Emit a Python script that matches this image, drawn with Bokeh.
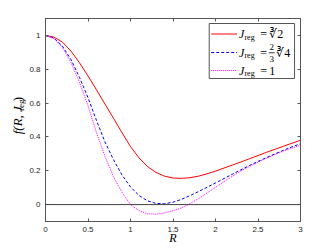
from bokeh.plotting import figure
from bokeh.layouts import row
from bokeh.models import LinearAxis, Span, FixedTicker, Range1d
from bokeh.core.properties import value
from bokeh.embed import file_html
from bokeh.resources import INLINE
import math

# ---- data ----
R = [0.0, 0.1, 0.2, 0.3, 0.4, 0.5, 0.6, 0.7, 0.8, 0.9,
     1.0, 1.1, 1.2, 1.3, 1.4, 1.5, 1.6, 1.7, 1.8, 1.9,
     2.0, 2.1, 2.2, 2.3, 2.4, 2.5, 2.6, 2.7, 2.8, 2.9, 3.0]
f_cbrt2 = [1.000, 0.990, 0.960, 0.907, 0.838, 0.760, 0.678, 0.594, 0.510, 0.425,
           0.343, 0.276, 0.225, 0.190, 0.168, 0.157, 0.155, 0.159, 0.168, 0.182,
           0.198, 0.216, 0.234, 0.252, 0.271, 0.290, 0.309, 0.327, 0.345, 0.363, 0.380]
f_two_thirds_cbrt4 = [1.000, 0.984, 0.936, 0.857, 0.752, 0.632, 0.497, 0.370, 0.265, 0.175,
                      0.104, 0.054, 0.022, 0.007, 0.005, 0.014, 0.031, 0.053, 0.077, 0.102,
                      0.128, 0.154, 0.180, 0.206, 0.231, 0.255, 0.278, 0.300, 0.321, 0.341, 0.360]
f_one = [1.000, 0.982, 0.928, 0.840, 0.722, 0.585, 0.425, 0.285, 0.165, 0.072,
         0.000, -0.036, -0.054, -0.057, -0.049, -0.036, -0.020, 0.005, 0.035, 0.068,
         0.102, 0.136, 0.168, 0.199, 0.226, 0.251, 0.274, 0.296, 0.316, 0.334, 0.351]

x_ticks = [0, 0.5, 1, 1.5, 2, 2.5, 3]
x_tick_labels = ["0", "0.5", "1", "1.5", "2", "2.5", "3"]
y_ticks = [0, 0.2, 0.4, 0.6, 0.8, 1]
y_tick_labels = ["0", "0.2", "0.4", "0.6", "0.8", "1"]

series_colors = ["#ff0000", "#0000ff", "#ff00ff"]
series_dashes = ["solid", "3 2", "1 1"]
legend_rhs = ["\u221b2", None, "1"]   # None -> (2/3)∛4 drawn as a stacked fraction

AX = "#262626"
FRAME = "#555555"
SERIF = "Liberation Serif"

X0, X1, Y0, Y1 = 0, 3, -0.1, 1.1
YL_W = 26                        # width of the strip holding the y label
P_W, H = 306, 249
BL, BR, BT, BB = 17, 32, 18, 28  # borders of the main plot

p = figure(width=P_W, height=H, x_range=Range1d(X0, X1), y_range=Range1d(Y0, Y1),
           output_backend="svg", toolbar_location=None,
           min_border_left=BL, min_border_right=BR, min_border_top=BT, min_border_bottom=BB)
p.xgrid.visible = False
p.ygrid.visible = False
p.outline_line_color = FRAME
p.outline_line_width = 1
p.background_fill_color = "white"
p.border_fill_color = "white"

p.add_layout(LinearAxis(), "above")
p.add_layout(LinearAxis(), "right")

def style_axis(ax, ticks, labels, show, standoff):
    ax.ticker = FixedTicker(ticks=ticks)
    ax.major_label_overrides = {t: l for t, l in zip(ticks, labels)}
    ax.axis_line_color = FRAME
    ax.major_tick_line_color = FRAME
    ax.major_tick_in = 3
    ax.major_tick_out = 0
    ax.minor_tick_line_color = None
    ax.major_label_text_font = "Liberation Sans"
    ax.major_label_text_font_size = "8px" if show else "0px"
    ax.major_label_text_color = AX if show else None
    ax.major_label_standoff = standoff if show else 0

style_axis(p.below[0], x_ticks, x_tick_labels, True, 5)
style_axis(p.above[0], x_ticks, x_tick_labels, False, 0)
style_axis(p.left[0], y_ticks, y_tick_labels, True, 5)
style_axis(p.right[0], y_ticks, y_tick_labels, False, 0)

xb = p.below[0]
xb.axis_label = "R"
xb.axis_label_text_font = SERIF
xb.axis_label_text_font_style = "italic"
xb.axis_label_text_font_size = "12px"
xb.axis_label_text_color = "black"
xb.axis_label_standoff = -4

p.add_layout(Span(location=0, dimension="width", line_color="#404040", line_width=1))

for ys, c, d in zip([f_cbrt2, f_two_thirds_cbrt4, f_one], series_colors, series_dashes):
    p.line(R, ys, line_color=c, line_width=1, line_dash=d)

# page pixel position -> data position inside the main plot
FL, FR = YL_W + BL, YL_W + P_W - BR
FT, FB = BT, H - BB
def dx(px):
    return X0 + (px - FL) / (FR - FL) * (X1 - X0)
def dy(py):
    return Y1 - (py - FT) / (FB - FT) * (Y1 - Y0)

def t(fig, x, y, s, size, italic=False, align="left", angle=0.0):
    fig.text(x=[x], y=[y], text=[s], text_font=value(SERIF),
             text_font_size=value(f"{size}px"),
             text_font_style=value("italic" if italic else "normal"),
             text_align=value(align), text_baseline=value("middle"),
             text_color="black", angle=angle, level="overlay")

# ---- legend (box, key lines, texts J_reg = ...) ----
LB_L, LB_R, LB_T, LB_B = 208, 294, 23, 78
p.quad(left=[dx(LB_L)], right=[dx(LB_R)], top=[dy(LB_T)], bottom=[dy(LB_B)],
       fill_color="white", line_color=FRAME, line_width=1, level="overlay")
JX = 238
for yc, c, d, rhs in zip([33.5, 52, 70], series_colors, series_dashes, legend_rhs):
    p.line(x=[dx(LB_L + 2), dx(LB_L + 28)], y=[dy(yc), dy(yc)], line_color=c,
           line_width=1, line_dash=d, level="overlay")
    t(p, dx(JX), dy(yc), "J", 12, italic=True)
    t(p, dx(JX + 5.5), dy(yc + 3), "reg", 8)
    t(p, dx(JX + 21.5), dy(yc), "=", 12)
    if rhs is not None:
        t(p, dx(JX + 30.5), dy(yc), rhs, 12)
    else:
        t(p, dx(JX + 33), dy(yc - 5.5), "2", 9, align="center")
        t(p, dx(JX + 33), dy(yc + 6), "3", 9, align="center")
        p.segment(x0=[dx(JX + 30)], y0=[dy(yc + 0.3)], x1=[dx(JX + 36)], y1=[dy(yc + 0.3)],
                  line_color="black", line_width=0.8, level="overlay")
        t(p, dx(JX + 37.5), dy(yc), "\u221b4", 12)

# ---- y label strip: coordinates are page pixels (y measured from the top) ----
yl = figure(width=YL_W, height=H, x_range=Range1d(0, YL_W), y_range=Range1d(H, 0),
            output_backend="svg", toolbar_location=None,
            x_axis_location=None, y_axis_location=None,
            min_border_left=0, min_border_right=0, min_border_top=0, min_border_bottom=0)
yl.xgrid.visible = False
yl.ygrid.visible = False
yl.outline_line_color = None
yl.background_fill_color = "white"
yl.border_fill_color = "white"

ang = math.pi / 2
t(yl, 17, 142, "f(R, J", 13, italic=True, angle=ang)
t(yl, 20.5, 113.5, "reg", 9, angle=ang)
t(yl, 17, 101.5, ")", 13, angle=ang)

layout = row(yl, p, spacing=0)
open("out.html", "w").write(file_html(layout, INLINE))
